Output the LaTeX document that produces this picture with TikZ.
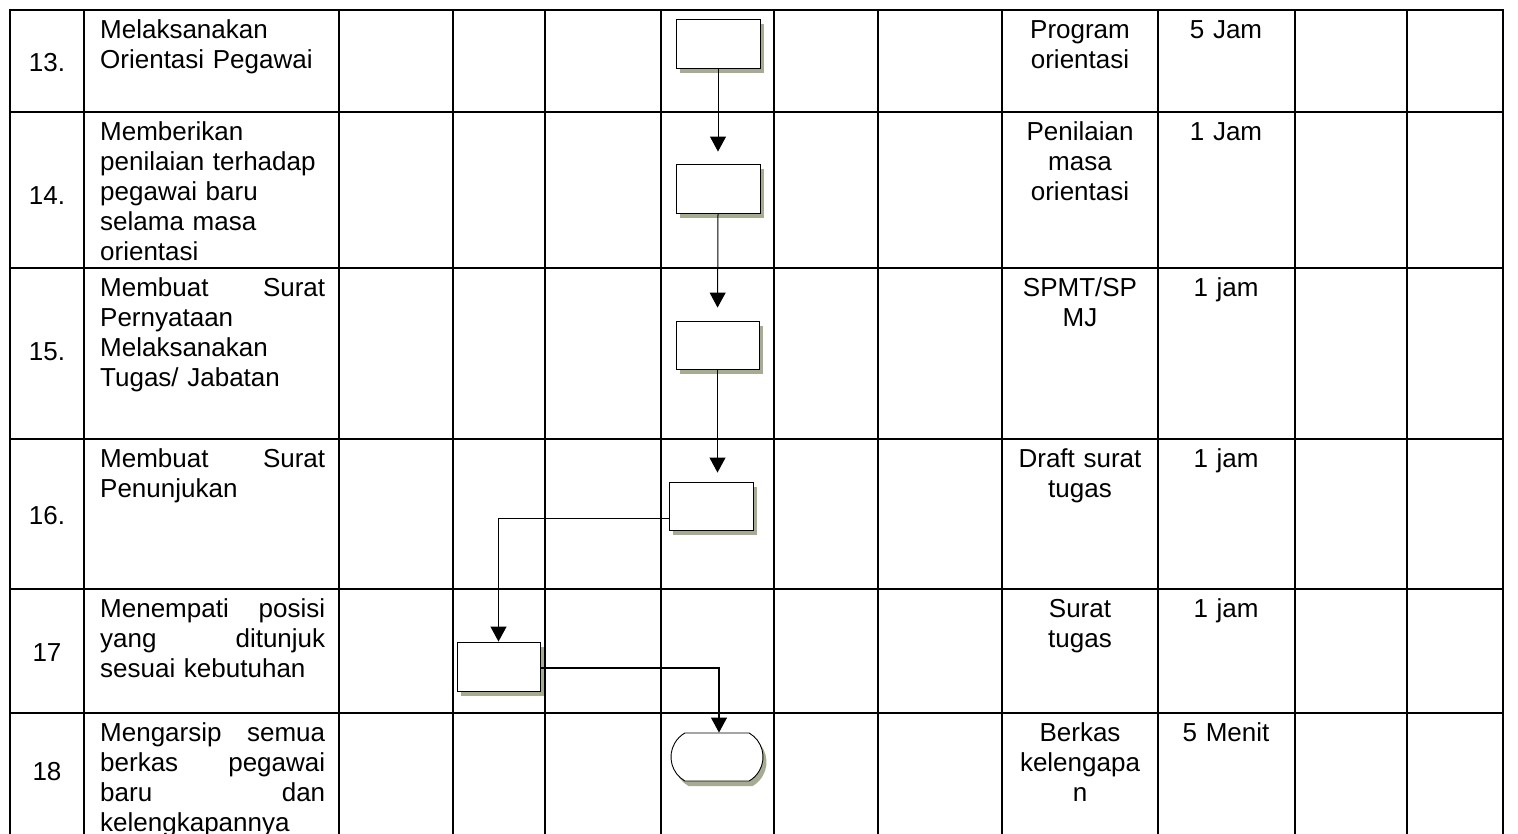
\documentclass[tikz,border=0pt]{standalone}
\usepackage{fontspec}
\setmainfont{Liberation Sans}
\usetikzlibrary{arrows.meta,shadows,shapes.misc,calc}
\definecolor{shade}{RGB}{166,172,146}
% a justified two-word line of the activity column
\newcommand\jline[2]{\makebox[225pt][l]{#1\hfill#2}}
\tikzset{
  gridline/.style={line width=1.3pt, black},
  cellfont/.style={font=\fontsize{26}{30}\selectfont},
  numtext/.style={cellfont, anchor=base, inner sep=0pt},
  acttext/.style={cellfont, anchor=north west, inner sep=0pt, text width=225pt, align=left},
  outtext/.style={cellfont, anchor=north, inner sep=0pt, text width=150pt, align=center},
  shadowed/.style={drop shadow={shadow xshift=3.5pt, shadow yshift=-5pt, fill=shade, opacity=1}},
  procbox/.style={draw=black, line width=0.9pt, fill=white, inner sep=0pt,
    minimum width=84pt, minimum height=49pt, shadowed},
  endoval/.style={rounded rectangle, rounded rectangle arc length=120, draw=black,
    line width=0.9pt, fill=white, inner sep=0pt, minimum width=92pt, minimum height=48pt, shadowed},
  conn/.style={line width=1.2pt, black, -{Triangle[width=16pt,length=15pt]}},
}
\begin{document}
\begin{tikzpicture}[x=1pt,y=-1pt]
\useasboundingbox (0,0) rectangle (1518,834);
\fill[white] (0,0) rectangle (1518,834);

% table grid
\foreach \gx in {10,84,339,453,545,661,774,878,1002,1158,1295,1407,1503}
  \draw[gridline] (\gx,9.4) -- (\gx,834);
\foreach \gy in {10,112,268,439,589,713}
  \draw[gridline] (9.4,\gy) -- (1503.6,\gy);

% row numbers
\node[numtext] (n13) at (47,72) {13.};
\node[numtext] (n14) at (47,205) {14.};
\node[numtext] (n15) at (47,360) {15.};
\node[numtext] (n16) at (47,524) {16.};
\node[numtext] (n17) at (47,661) {17};
\node[numtext] (n18) at (47,780) {18};

% activities
\node[acttext] (a13) at (100,17) {\strut Melaksanakan\\Orientasi Pegawai};
\node[acttext] (a14) at (100,119) {\strut Memberikan\\penilaian terhadap\\pegawai baru\\selama masa\\orientasi};
\node[acttext] (a15) at (100,275) {\strut\jline{Membuat}{Surat}\\Pernyataan\\Melaksanakan\\Tugas/ Jabatan};
\node[acttext] (a16) at (100,446) {\strut\jline{Membuat}{Surat}\\Penunjukan};
\node[acttext] (a17) at (100,596) {\strut\jline{Menempati}{posisi}\\\jline{yang}{ditunjuk}\\sesuai kebutuhan};
\node[acttext] (a18) at (100,720) {\strut\jline{Mengarsip}{semua}\\\jline{berkas}{pegawai}\\\jline{baru}{dan}\\kelengkapannya};

% outputs
\node[outtext] (o13) at (1080,17) {\strut Program\\orientasi};
\node[outtext] (o14) at (1080,119) {\strut Penilaian\\masa\\orientasi};
\node[outtext] (o15) at (1080,275) {\strut SPMT/SP\\MJ};
\node[outtext] (o16) at (1080,446) {\strut Draft surat\\tugas};
\node[outtext] (o17) at (1080,596) {\strut Surat\\tugas};
\node[outtext] (o18) at (1080,720) {\strut Berkas\\kelengapa\\n};

% durations
\node[outtext] (t13) at (1226,17) {\strut 5 Jam};
\node[outtext] (t14) at (1226,119) {\strut 1 Jam};
\node[outtext] (t15) at (1226,275) {\strut 1 jam};
\node[outtext] (t16) at (1226,446) {\strut 1 jam};
\node[outtext] (t17) at (1226,596) {\strut 1 jam};
\node[outtext] (t18) at (1226,720) {\strut 5 Menit};

% flow symbols
\node[procbox] (b13) at (718,43.5) {};
\node[procbox] (b14) at (718,188.5) {};
\node[procbox, minimum width=83pt, minimum height=48pt] (b15) at (717.5,345) {};
\node[procbox, minimum height=48pt] (b16) at (711,506) {};
\node[procbox, minimum width=83pt] (b17) at (498.5,666.5) {};
\node[endoval] (fin) at (717,757) {};

% connectors
\draw[conn, line width=1pt, shorten >=12pt] (b13.south) -- (b14.north);
\draw[conn, line width=1pt, shorten >=13pt] (b14.south) -- (b15.north);
\draw[conn, line width=1pt, shorten >=9pt] (b15.south) -- (b15.south |- b16.north);
\draw[conn] ($(b16.south west)!0.25!(b16.north west)$) -| (b17.north);
\draw[conn] ($(b17.south east)!0.47!(b17.north east)$) -| ([xshift=2pt]fin.north);
\end{tikzpicture}
\end{document}
